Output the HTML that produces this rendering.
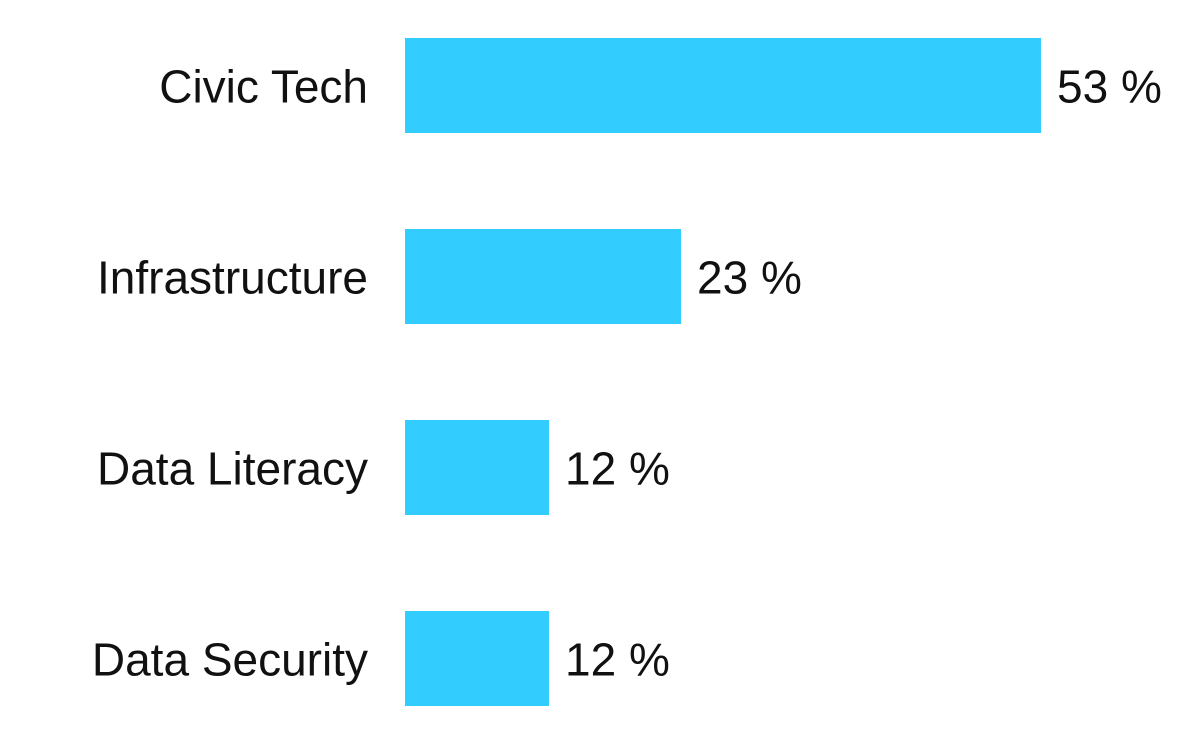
<!DOCTYPE html>
<html><head><meta charset="utf-8"><style>
html,body{margin:0;padding:0;background:#fff;}
svg{display:block;font-family:"Liberation Sans",sans-serif;}
</style></head><body>
<svg id="chart" width="1200" height="731" viewBox="0 0 1200 731"></svg>
<script>
const categories = ["Civic Tech","Infrastructure","Data Literacy","Data Security"];
const values = [53,23,12,12];
const valueLabels = ["53 %","23 %","12 %","12 %"];
const svg = document.getElementById('chart');
const NS = 'http://www.w3.org/2000/svg';
const x0 = 405, pxPer = 12;
function xScale(v){ return x0 + v*pxPer; }
const bandTop = 38, bandStep = 191, barH = 95;
function yScale(i){ return bandTop + i*bandStep; }
categories.forEach((c,i)=>{
  const y = yScale(i);
  const r = document.createElementNS(NS,'rect');
  
  
  r.setAttribute('x', x0); r.setAttribute('y', y);
  r.setAttribute('width', xScale(values[i]) - x0); r.setAttribute('height', barH);
  r.setAttribute('fill', '#33ccff');
  svg.appendChild(r);
  const t = document.createElementNS(NS,'text');
  
  
  t.setAttribute('x', 368); t.setAttribute('y', y + barH/2 + 17);
  t.setAttribute('text-anchor','end'); t.setAttribute('font-size','46');
  t.setAttribute('fill','#111');
  t.textContent = c;
  svg.appendChild(t);
  const v = document.createElementNS(NS,'text');
  
  
  v.setAttribute('x', xScale(values[i]) + 16); v.setAttribute('y', y + barH/2 + 17);
  v.setAttribute('font-size','46'); v.setAttribute('fill','#111');
  v.textContent = valueLabels[i];
  svg.appendChild(v);
});
</script>
</body></html>
